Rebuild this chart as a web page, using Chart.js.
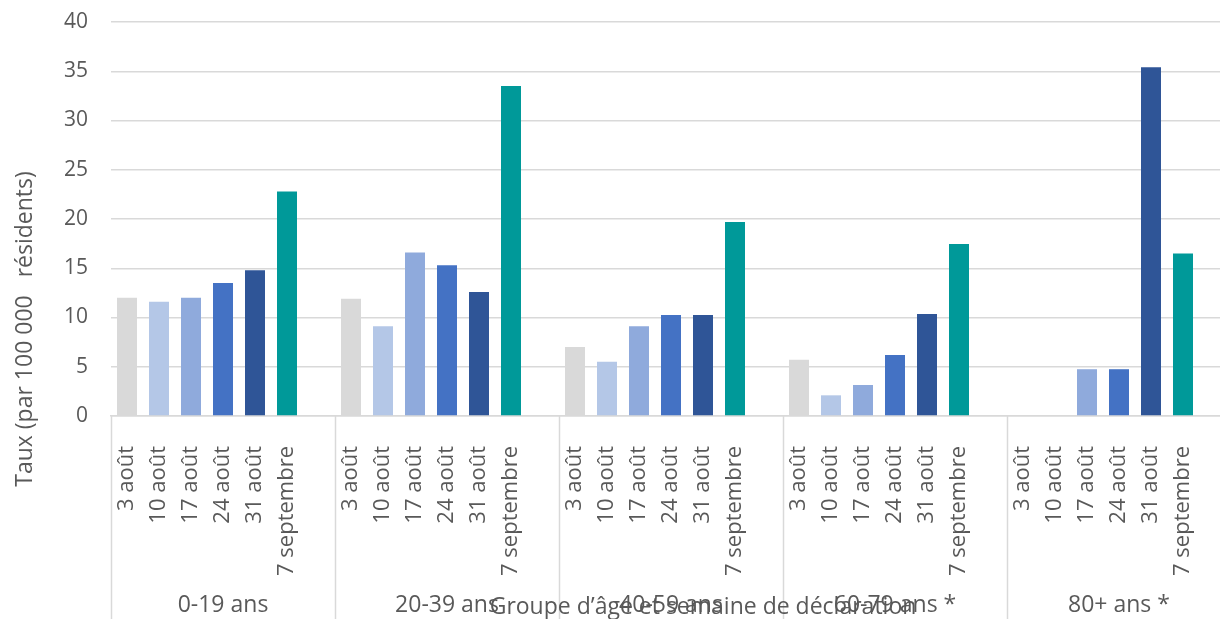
<!DOCTYPE html>
<html>
<head>
<meta charset="utf-8">
<script src="https://cdn.jsdelivr.net/npm/chart.js@4"></script>
<style>
html,body{margin:0;padding:0;background:#fff;overflow:hidden;}
</style>
</head>
<body>
<canvas id="c" width="1220" height="619"></canvas>
<script>
const ageGroups = ['0-19 ans', '20-39 ans', '40-59 ans', '60-79 ans *', '80+ ans *'];
const weeks = ['3 août', '10 août', '17 août', '24 août', '31 août', '7 septembre'];
const weekColors = ['#D9D9D9', '#B4C7E7', '#8FAADC', '#4472C4', '#2F5597', '#009999'];
const rates0_19  = [12.0, 11.6, 12.0, 13.5, 14.8, 22.8];
const rates20_39 = [11.9, 9.1, 16.6, 15.3, 12.6, 33.5];
const rates40_59 = [7.0, 5.5, 9.1, 10.25, 10.25, 19.7];
const rates60_79 = [5.7, 2.1, 3.15, 6.2, 10.35, 17.45];
const rates80p   = [0, 0, 4.75, 4.75, 35.4, 16.5];
const yTicks = [0, 5, 10, 15, 20, 25, 30, 35, 40];
const yTitle = 'Taux (par 100 000   résidents)';
const xTitle = 'Groupe d’âge et semaine de déclaration';

const allRates = [rates0_19, rates20_39, rates40_59, rates60_79, rates80p];
const labels = [], data = [], colors = [];
allRates.forEach(arr => {
  arr.forEach((v, i) => { labels.push(weeks[i]); data.push(v); colors.push(weekColors[i]); });
  labels.push(''); data.push(null); colors.push('#fff');
});

const FONT = '"Open Sans", "Noto Sans", sans-serif';
const FS = 23;
const TXT = '#595959';
const GRID = '#D9D9D9';
const AREA = { left: 111, top: 22, right: 1231, bottom: 416 };

const decor = {
  id: 'decor',
  afterLayout(chart) {
    const a = chart.chartArea;
    Object.assign(a, AREA, { width: AREA.right - AREA.left, height: AREA.bottom - AREA.top });
    const x = chart.scales.x, y = chart.scales.y;
    Object.assign(x, { left: AREA.left, right: AREA.right, width: AREA.right - AREA.left, top: AREA.bottom, bottom: chart.height, height: chart.height - AREA.bottom });
    Object.assign(y, { left: 0, right: AREA.left, width: AREA.left, top: AREA.top, bottom: AREA.bottom, height: AREA.bottom - AREA.top });
    x.configure(); y.configure();
  },
  afterDraw(chart) {
    const ctx = chart.ctx, a = chart.chartArea;
    const n = ageGroups.length;
    const gw = (a.right - a.left) / n;
    ctx.save();
    ctx.strokeStyle = GRID; ctx.lineWidth = 1.5;
    for (let g = 0; g <= n; g++) {
      const x = Math.round(a.left + g * gw) + 0.5;
      ctx.beginPath(); ctx.moveTo(x, a.bottom); ctx.lineTo(x, chart.height); ctx.stroke();
    }
    ctx.fillStyle = TXT;
    ctx.font = FS + 'px ' + FONT;
    ctx.textAlign = 'center'; ctx.textBaseline = 'middle';
    ageGroups.forEach((g, i) => ctx.fillText(g, a.left + (i + 0.5) * gw, 605));
    ctx.fillText(xTitle, 703, 607);
    ctx.translate(25, 329);
    ctx.rotate(-Math.PI / 2);
    ctx.fillText(yTitle, 0, 0);
    ctx.restore();
  }
};

new Chart(document.getElementById('c'), {
  type: 'bar',
  data: { labels, datasets: [{ data, backgroundColor: colors, barPercentage: 0.625, categoryPercentage: 1 }] },
  options: {
    responsive: false, animation: false,
    layout: { padding: { top: 22, left: 0, right: 0, bottom: 0 } },
    plugins: { legend: { display: false }, tooltip: { enabled: false } },
    scales: {
      x: {
        grid: { display: false, drawTicks: false },
        border: { display: true, color: GRID, width: 1.5 },
        ticks: { autoSkip: false, minRotation: 90, maxRotation: 90, padding: 30, color: TXT, font: { size: 22, family: FONT } },
        afterFit(s) { s.height = 203; }
      },
      y: {
        min: 0, max: 40,
        afterBuildTicks(s) { s.ticks = yTicks.map(v => ({ value: v })); },
        grid: { color: GRID, lineWidth: 1.5, drawTicks: false },
        border: { display: false },
        ticks: { padding: 23, color: TXT, font: { size: 21, family: FONT } },
        afterFit(s) { s.width = 111; }
      }
    }
  },
  plugins: [decor]
});
</script>
</body>
</html>
